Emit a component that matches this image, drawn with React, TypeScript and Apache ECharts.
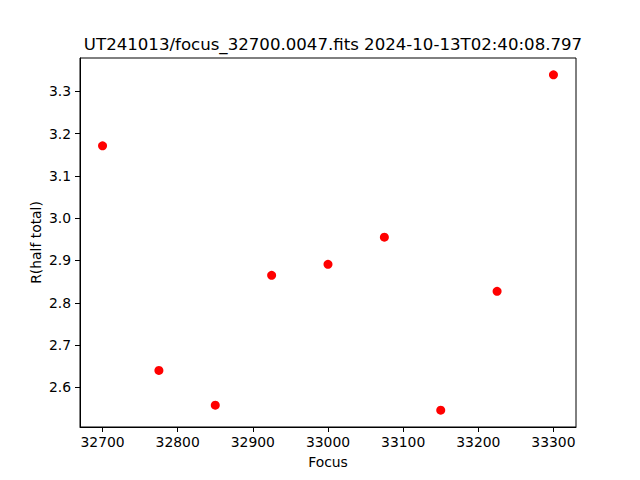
import React, { useEffect, useRef } from "react";
import * as echarts from "echarts";

const focusValues = [32700, 32775, 32850, 32925, 33000, 33075, 33150, 33225, 33300];
const radiusValues = [3.171, 2.640, 2.558, 2.865, 2.891, 2.955, 2.546, 2.827, 3.339];
const xTicks = [32700, 32800, 32900, 33000, 33100, 33200, 33300];
const yTicks = [2.6, 2.7, 2.8, 2.9, 3.0, 3.1, 3.2, 3.3];
const titleText = "UT241013/focus_32700.0047.fits 2024-10-13T02:40:08.797";

export default function App() {
  const ref = useRef<HTMLDivElement>(null);
  useEffect(() => {
    if (!ref.current) return;
    const chart = echarts.init(ref.current, null, { renderer: "svg" });
    const font = "DejaVu Sans";
    const xr = Math.max(...focusValues) - Math.min(...focusValues);
    const yr = Math.max(...radiusValues) - Math.min(...radiusValues);
    chart.setOption({
      animation: false,
      title: {
        text: titleText,
        left: 328,
        top: 31,
        textAlign: "center",
        textStyle: { fontFamily: font, fontSize: 16.6, fontWeight: "normal", color: "#000" },
      },
      grid: {
        left: 80,
        right: 64,
        top: 58,
        bottom: 53,
        show: true,
        borderColor: "#000",
        borderWidth: 1,
        backgroundColor: "#fff",
      },
      xAxis: {
        type: "value",
        min: Math.min(...focusValues) - 0.05 * xr,
        max: Math.max(...focusValues) + 0.05 * xr,
        name: "Focus",
        nameLocation: "middle",
        nameGap: 28,
        nameMoveOverlap: false,
        nameTextStyle: { fontFamily: font, fontSize: 13.9, color: "#000" },
        splitLine: { show: false },
        axisLine: { show: true, lineStyle: { color: "#000", width: 1 } },
        axisTick: { show: true, length: 5, lineStyle: { color: "#000" }, customValues: xTicks },
        axisLabel: {
          fontFamily: font,
          fontSize: 13.9,
          color: "#000",
          margin: 8,
          customValues: xTicks,
          formatter: (v: number) => String(Math.round(v)),
        },
      },
      yAxis: {
        type: "value",
        min: Math.min(...radiusValues) - 0.05 * yr,
        max: Math.max(...radiusValues) + 0.05 * yr,
        name: "R(half total)",
        nameLocation: "middle",
        nameGap: 37,
        nameRotate: 90,
        nameMoveOverlap: false,
        nameTextStyle: { fontFamily: font, fontSize: 13.9, color: "#000" },
        splitLine: { show: false },
        axisLine: { show: true, lineStyle: { color: "#000", width: 1 } },
        axisTick: { show: true, length: 5, lineStyle: { color: "#000" }, customValues: yTicks },
        axisLabel: {
          fontFamily: font,
          fontSize: 13.9,
          color: "#000",
          margin: 9,
          customValues: yTicks,
          formatter: (v: number) => v.toFixed(1),
        },
      },
      series: [
        {
          type: "scatter",
          data: focusValues.map((f, i) => [f, radiusValues[i]]),
          symbol: "circle",
          symbolSize: 9,
          itemStyle: { color: "#ff0000", opacity: 1 },
        },
      ],
    });
    return () => chart.dispose();
  }, []);
  return <div ref={ref} style={{ width: 640, height: 480, margin: -8 }} />;
}
